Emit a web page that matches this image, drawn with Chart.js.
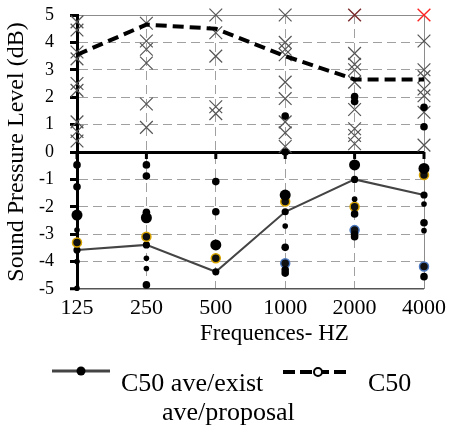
<!DOCTYPE html>
<html>
<head>
<meta charset="utf-8">
<script src="https://cdn.jsdelivr.net/npm/chart.js@4.4.1/dist/chart.umd.min.js"></script>
<style>
  body { margin: 0; background: #fff; }
  #wrap { position: relative; width: 449px; height: 426px; font-family: 'Liberation Serif', 'Times New Roman', serif; color: #000; }
  #chartBox { position: absolute; left: 0; top: 0; width: 449px; height: 426px; }
  .txt { position: absolute; white-space: nowrap; line-height: 1; }
  svg { position: absolute; overflow: visible; }
</style>
</head>
<body>
<div id="wrap">
  <div id="chartBox"><canvas id="splChart"></canvas></div>
  <div class="txt" style="left:200px; top:321px; font-size:23px;">Frequences- HZ</div>
  <svg style="left:50px; top:362px;" width="62" height="20">
    <line x1="2" y1="9" x2="60" y2="9" stroke="#444" stroke-width="3"/>
    <circle cx="31" cy="9" r="4.5" fill="#000"/>
  </svg>
  <div class="txt" style="left:121px; top:370px; font-size:26px;">C50 ave/exist</div>
  <svg style="left:281px; top:363px;" width="72" height="20">
    <line x1="2" y1="9" x2="70" y2="9" stroke="#000" stroke-width="4" stroke-dasharray="12,5"/>
    <circle cx="37" cy="9" r="4" fill="#fff" stroke="#000" stroke-width="2"/>
  </svg>
  <div class="txt" style="left:368px; top:370px; font-size:26px;">C50</div>
  <div class="txt" style="left:162px; top:399px; font-size:26px;">ave/proposal</div>
</div>
<script>
const freqs = ['125', '250', '500', '1000', '2000', '4000'];

// average curves
const aveExist = [-3.58, -3.39, -4.37, -2.18, -1.0, -1.57];
const aveProposal = [3.55, 4.65, 4.5, 3.5, 2.65, 2.65];

// individual readings, one list per frequency
const crossVals = [
    [4.75, 4.45, 3.65, 3.4, 2.5, 2.25, 1.1, 0.75, 0.4],
    [4.7, 4.05, 3.75, 3.25, 1.75, 0.9],
    [5.0, 4.35, 3.5, 1.65, 1.4],
    [5.0, 4.0, 3.75, 3.55, 2.55, 1.95, 1.1, 0.7, 0.2],
    [3.6, 3.2, 3.0, 2.55, 1.55, 0.85, 0.6, 0.3],
    [4.05, 3.0, 2.75, 2.3, 2.05, 1.45, 0.25]
];
const darkRedCross = [null, null, null, null, 5.0, null];
const redCross = [null, null, null, null, null, 5.0];

const bigDots = [[-2.3], [-2.4], [-3.39], [-1.57], [-0.47], [-0.6]];
const dots = [
    [-0.47, -1.27],
    [-0.47, -0.88, -2.2, -4.85],
    [-1.08, -2.18],
    [1.31, 0, -3.48, -4.3, -4.42],
    [2.02, 1.84, -2.26, -3.0, -3.09],
    [1.63, 0.92, -2.58, -4.55]
];
const smallDots = [
    [-2.85, -4.0, -4.97],
    [-3.88, -4.25],
    [],
    [-2.7],
    [-1.72],
    [-1.9, -2.87]
];
const yellowRings = [-3.3, -3.09, -3.88, -1.81, -2.0, -0.84];
const blueRings = [null, null, null, -4.06, -2.85, -4.18];

const yTicks = [-5, -4, -3, -2, -1, 0, 1, 2, 3, 4, 5];

function toPoints(lists) {
    return lists.flatMap((vals, i) => vals.map(v => ({ x: freqs[i], y: v })));
}

function marks(label, data, style) {
    return Object.assign({
        label: label,
        data: data,
        showLine: false,
        clip: false,
        pointStyle: 'circle',
        pointBorderWidth: 0
    }, style);
}

// tick marks hanging below the zero line
const zeroTicks = {
    id: 'zeroTicks',
    beforeDatasetsDraw(chart) {
        const { ctx, scales: { x, y } } = chart;
        const y0 = y.getPixelForValue(0);
        ctx.save();
        ctx.strokeStyle = '#000';
        ctx.lineWidth = 3;
        x.ticks.forEach((t, i) => {
            const px = x.getPixelForTick(i);
            ctx.beginPath();
            ctx.moveTo(px, y0);
            ctx.lineTo(px, y0 + 7);
            ctx.stroke();
        });
        ctx.restore();
    }
};

Chart.defaults.font.family = "'Liberation Serif', 'Times New Roman', serif";
Chart.defaults.color = '#000';

var ctx = document.getElementById('splChart').getContext('2d');
new Chart(ctx, {
    type: 'line',
    data: {
        labels: freqs,
        datasets: [
            marks('dots', toPoints(dots), { pointRadius: 3.8, pointBackgroundColor: '#000', order: 1 }),
            marks('small dots', toPoints(smallDots), { pointRadius: 2.8, pointBackgroundColor: '#000', order: 1 }),
            marks('big dots', toPoints(bigDots), { pointRadius: 5.5, pointBackgroundColor: '#000', order: 1 }),
            marks('yellow', yellowRings, { pointRadius: 4.5, pointBackgroundColor: '#111', pointBorderColor: '#d9a400', pointBorderWidth: 1.5, order: 1 }),
            marks('blue', blueRings, { pointRadius: 4.5, pointBackgroundColor: '#111', pointBorderColor: '#4a78c0', pointBorderWidth: 1.5, order: 1 }),
            {
                label: 'C50 ave/exist',
                data: aveExist,
                borderColor: '#444',
                borderWidth: 2,
                pointRadius: 3.6,
                pointBackgroundColor: '#000',
                pointBorderWidth: 0,
                order: 2
            },
            {
                label: 'C50 ave/proposal',
                data: aveProposal,
                borderColor: '#000',
                borderWidth: 4,
                borderDash: [11, 6],
                pointRadius: 0,
                order: 3
            },
            marks('crosses', toPoints(crossVals), { pointStyle: 'crossRot', pointRadius: 9, pointBorderColor: '#555', pointBorderWidth: 1.2, order: 4 }),
            marks('dark red', darkRedCross, { pointStyle: 'crossRot', pointRadius: 9, pointBorderColor: '#7a2a2a', pointBorderWidth: 1.4, order: 4 }),
            marks('red', redCross, { pointStyle: 'crossRot', pointRadius: 9, pointBorderColor: '#ff2424', pointBorderWidth: 1.4, order: 4 })
        ]
    },
    options: {
        responsive: true,
        maintainAspectRatio: false,
        devicePixelRatio: 1,
        animation: false,
        layout: { padding: { left: 0, right: 25, top: 15, bottom: 0 } },
        scales: {
            x: {
                type: 'category',
                offset: false,
                afterFit: function (s) {
                    s.height = 137;
                    s.paddingLeft = 0;
                    s.paddingRight = 0;
                },
                grid: {
                    drawTicks: false,
                    color: function (c) {
                        if (c.index === 0) return 'rgba(0,0,0,0)';
                        if (c.index === freqs.length - 1) return '#8c8c8c';
                        return '#a0a0a0';
                    },
                    lineWidth: 1
                },
                border: {
                    display: false,
                    dash: function (c) {
                        return (c.index > 0 && c.index < freqs.length - 1) ? [9, 5] : [];
                    }
                },
                ticks: {
                    autoSkip: false,
                    maxRotation: 0,
                    padding: 6,
                    font: { size: 22 }
                }
            },
            y: {
                min: -5,
                max: 5,
                afterFit: function (s) {
                    s.width = 77;
                    s.paddingTop = 0;
                    s.paddingBottom = 0;
                },
                afterBuildTicks: function (s) {
                    s.ticks = yTicks.map(v => ({ value: v }));
                },
                grid: {
                    color: function (c) {
                        const v = c.tick ? c.tick.value : null;
                        if (v === 0) return '#000';
                        if (v === 5) return '#8c8c8c';
                        if (v === -5) return '#555';
                        return '#a0a0a0';
                    },
                    lineWidth: function (c) {
                        const v = c.tick ? c.tick.value : null;
                        if (v === 0) return 3;
                        if (v === -5) return 1.5;
                        return 1;
                    },
                    tickColor: '#000',
                    tickWidth: 3,
                    tickLength: 7
                },
                border: {
                    color: '#000',
                    width: 3,
                    dash: function (c) {
                        const v = c.tick ? c.tick.value : null;
                        return (v !== null && v !== 0 && Math.abs(v) < 5) ? [9, 5] : [];
                    }
                },
                ticks: {
                    padding: 16,
                    font: { size: 18 }
                },
                title: {
                    display: true,
                    text: 'Sound Pressure Level (dB)',
                    font: { size: 24 },
                    padding: { top: 2, bottom: 2 }
                }
            }
        },
        plugins: {
            legend: { display: false },
            tooltip: { enabled: false }
        }
    },
    plugins: [zeroTicks]
});
</script>
</body>
</html>
